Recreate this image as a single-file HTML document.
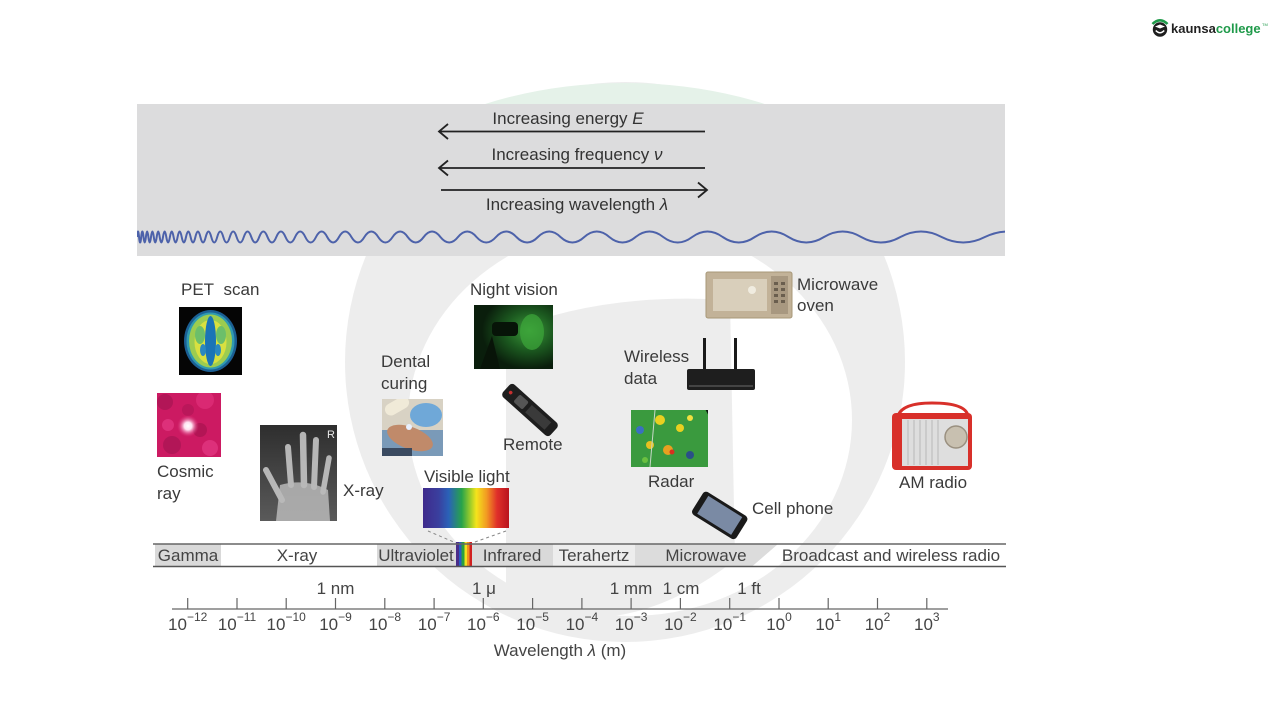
<!DOCTYPE html>
<html>
<head>
<meta charset="utf-8">
<style>
html,body{margin:0;padding:0;background:#fff;}
svg{display:block;}
text{font-family:"Liberation Sans",Arial,sans-serif;}
</style>
</head>
<body>
<svg width="1280" height="720" viewBox="0 0 1280 720" xmlns="http://www.w3.org/2000/svg">
<defs>
  <clipPath id="capclip"><rect x="0" y="0" width="1280" height="256"/></clipPath>
  <clipPath id="waveclip"><rect x="137" y="220" width="868" height="30"/></clipPath>
  <clipPath id="radarclip"><rect x="631" y="410" width="77" height="57"/></clipPath>
  <clipPath id="nvclip"><rect x="474" y="305" width="79" height="64"/></clipPath>
  <clipPath id="dentclip"><rect x="382" y="399" width="61" height="57"/></clipPath>
  <clipPath id="cosclip"><rect x="157" y="393" width="64" height="64"/></clipPath>
  <clipPath id="xrclip"><rect x="260" y="425" width="77" height="96"/></clipPath>
  <linearGradient id="spec" x1="0" y1="0" x2="1" y2="0">
    <stop offset="0" stop-color="#3f2a8c"/>
    <stop offset="0.18" stop-color="#3a3f9e"/>
    <stop offset="0.3" stop-color="#2a62b8"/>
    <stop offset="0.45" stop-color="#27a34a"/>
    <stop offset="0.55" stop-color="#9ccc2a"/>
    <stop offset="0.62" stop-color="#f4e41c"/>
    <stop offset="0.74" stop-color="#f29a22"/>
    <stop offset="0.86" stop-color="#e0302a"/>
    <stop offset="1" stop-color="#b8141e"/>
  </linearGradient>
  <linearGradient id="xg" x1="0" y1="0" x2="0" y2="1">
    <stop offset="0" stop-color="#2e2e2e"/>
    <stop offset="1" stop-color="#5a5a5a"/>
  </linearGradient>
  <radialGradient id="glow">
    <stop offset="0" stop-color="#ffffff"/>
    <stop offset="0.35" stop-color="#ffe0f0"/>
    <stop offset="1" stop-color="#e0307a" stop-opacity="0"/>
  </radialGradient>
  <radialGradient id="nvg" cx="0.7" cy="0.4" r="0.6">
    <stop offset="0" stop-color="#3c9a3a"/>
    <stop offset="0.5" stop-color="#1c5a20"/>
    <stop offset="1" stop-color="#0a1e0c"/>
  </radialGradient>
</defs>

<!-- watermark -->
<circle cx="625" cy="362" r="280" fill="#ededed"/>
<g clip-path="url(#capclip)">
  <ellipse cx="625" cy="265" rx="300" ry="182" fill="#e5f2e9"/>
</g>
<ellipse cx="630" cy="420" rx="222" ry="196" fill="#ffffff"/>
<path d="M506 332 Q600 292 730 300 L735 560 Q620 650 506 600 Z" fill="#ededed"/>

<!-- banner -->
<rect x="137" y="104" width="868" height="152" fill="#dcdcdd"/>
<text x="568" y="124" font-size="17" fill="#333" text-anchor="middle">Increasing energy <tspan font-style="italic">E</tspan></text>
<line x1="439" y1="131.5" x2="705" y2="131.5" stroke="#222" stroke-width="1.8"/>
<path d="M448 124 L439 131.5 L448 139" fill="none" stroke="#222" stroke-width="1.8"/>
<text x="577" y="160" font-size="17" fill="#333" text-anchor="middle">Increasing frequency <tspan font-style="italic">ν</tspan></text>
<line x1="439" y1="168" x2="705" y2="168" stroke="#222" stroke-width="1.8"/>
<path d="M448 160.5 L439 168 L448 175.5" fill="none" stroke="#222" stroke-width="1.8"/>
<line x1="441" y1="190" x2="707" y2="190" stroke="#222" stroke-width="1.8"/>
<path d="M698 182.5 L707 190 L698 197.5" fill="none" stroke="#222" stroke-width="1.8"/>
<text x="577" y="210" font-size="17" fill="#333" text-anchor="middle">Increasing wavelength <tspan font-style="italic">λ</tspan></text>

<!-- wave -->
<g clip-path="url(#waveclip)">
<path fill="none" stroke="#4d62aa" stroke-width="2" d="M137 237
Q138.03 226 139.05 237 Q140.1 248 141.2 237 Q142.35 226 143.5 237 Q144.7 248 145.9 237
Q147.15 226 148.4 237 Q149.7 248 151 237 Q152.4 226 153.8 237 Q155.25 248 156.7 237
Q158.2 226 159.7 237 Q161.35 248 163 237 Q164.65 226 166.3 237 Q168.1 248 169.9 237
Q171.75 226 173.6 237 Q175.6 248 177.6 237 Q179.65 226 181.7 237 Q183.85 248 186 237
Q188.3 226 190.6 237 Q193 248 195.4 237 Q197.9 226 200.4 237 Q203.05 248 205.7 237
Q208.5 226 211.3 237 Q214.25 248 217.2 237 Q220.25 226 223.3 237 Q226.55 248 229.8 237
Q233.2 226 236.6 237 Q240.2 248 243.8 237 Q247.55 226 251.3 237 Q255.25 248 259.2 237
Q263.35 226 267.5 237 Q271.9 248 276.3 237 Q280.9 226 285.5 237 Q290.3 248 295.1 237
Q300.2 226 305.3 237 Q310.65 248 316 237 Q321.6 226 327.2 237 Q333.1 248 339 237
Q345.2 226 351.4 237 Q357.9 248 364.4 237 Q371.3 226 378.2 237 Q385.4 248 392.6 237
Q400.15 226 407.7 237 Q415.7 248 423.7 237 Q432.05 226 440.4 237 Q449.2 248 458 237
Q467.25 226 476.5 237 Q486.25 248 496 237 Q506.2 226 516.4 237 Q527.15 248 537.9 237
Q549.2 226 560.5 237 Q572.4 248 584.3 237 Q596.8 226 609.3 237 Q622.45 248 635.6 237
Q649.4 226 663.2 237 Q677.7 248 692.2 237 Q707.45 226 722.7 237 Q738.75 248 754.8 237
Q771.65 226 788.5 237 Q806.25 248 824 237 Q842.6 226 861.2 237 Q880.8 248 900.4 237
Q921 226 941.6 237 Q963.25 248 984.9 237 Q1007.6 226 1030.4 237"/>
</g>

<!-- PET scan -->
<text x="181" y="295" font-size="17" fill="#3a3a3a">PET&#160; scan</text>
<rect x="179" y="307" width="63" height="68" fill="#050505"/>
<ellipse cx="210.5" cy="341" rx="26.5" ry="31" fill="#1b5f94"/>
<ellipse cx="210.5" cy="341" rx="24" ry="28.5" fill="#2f9ab0"/>
<ellipse cx="210.5" cy="341" rx="21.5" ry="26.5" fill="#9ccc50"/>
<ellipse cx="210.5" cy="342" rx="16" ry="22" fill="#d8e040"/>
<ellipse cx="200" cy="335" rx="5" ry="9" fill="#6cbf6a"/>
<ellipse cx="221" cy="335" rx="5" ry="9" fill="#6cbf6a"/>
<ellipse cx="210.5" cy="341" rx="5.5" ry="25" fill="#1a74b6"/>
<ellipse cx="203" cy="350" rx="3" ry="6" fill="#2a88c0"/>
<ellipse cx="218" cy="350" rx="3" ry="6" fill="#2a88c0"/>

<!-- Cosmic ray -->
<g clip-path="url(#cosclip)">
<rect x="157" y="393" width="64" height="64" fill="#cc1a62"/>
<circle cx="165" cy="402" r="8" fill="#a01450" opacity="0.6"/>
<circle cx="205" cy="400" r="9" fill="#e0307a" opacity="0.7"/>
<circle cx="172" cy="445" r="9" fill="#a01450" opacity="0.6"/>
<circle cx="210" cy="448" r="8" fill="#e8408a" opacity="0.6"/>
<circle cx="200" cy="430" r="7" fill="#9a1048" opacity="0.5"/>
<circle cx="168" cy="425" r="6" fill="#e8408a" opacity="0.6"/>
<circle cx="188" cy="410" r="6" fill="#a81452" opacity="0.5"/>
<circle cx="188" cy="426" r="11" fill="url(#glow)"/>
</g>

<!-- X-ray -->
<g clip-path="url(#xrclip)">
<rect x="260" y="425" width="77" height="96" fill="url(#xg)"/>
<g stroke="#c4c4c4" stroke-linecap="round" fill="none" opacity="0.9">
<line x1="288" y1="447" x2="291" y2="485" stroke-width="6"/>
<line x1="303" y1="435" x2="304" y2="485" stroke-width="6.5"/>
<line x1="316" y1="440" x2="314" y2="487" stroke-width="6"/>
<line x1="329" y1="458" x2="323" y2="492" stroke-width="5.5"/>
<line x1="266" y1="470" x2="282" y2="500" stroke-width="6"/>
</g>
<path d="M280 485 Q305 478 328 490 L330 521 L276 521 Z" fill="#b8b8b8" opacity="0.85"/>
<text x="327" y="438" font-size="11" fill="#e8e8e8">R</text>
</g>
<text x="343" y="496" font-size="17" fill="#3a3a3a">X-ray</text>

<!-- Cosmic label -->
<text x="157" y="477" font-size="17" fill="#3a3a3a">Cosmic</text>
<text x="157" y="499" font-size="17" fill="#3a3a3a">ray</text>

<!-- Dental curing -->
<text x="381" y="367" font-size="17" fill="#3a3a3a">Dental</text>
<text x="381" y="389" font-size="17" fill="#3a3a3a">curing</text>
<g clip-path="url(#dentclip)">
<rect x="382" y="399" width="61" height="57" fill="#d8d2c4"/>
<rect x="382" y="430" width="61" height="26" fill="#7a9ab8"/>
<ellipse cx="426" cy="415" rx="16" ry="12" fill="#6fa8d8"/>
<ellipse cx="410" cy="438" rx="24" ry="11" fill="#c08a6a" transform="rotate(20 410 438)"/>
<rect x="384" y="400" width="26" height="12" rx="6" fill="#f0ead8" transform="rotate(-30 397 406)"/>
<circle cx="409" cy="427" r="3" fill="#e8f0ff"/>
<rect x="382" y="448" width="30" height="8" fill="#3a4a60"/>
</g>

<!-- Night vision -->
<text x="470" y="295" font-size="17" fill="#3a3a3a">Night vision</text>
<g clip-path="url(#nvclip)">
<rect x="474" y="305" width="79" height="64" fill="url(#nvg)"/>
<rect x="492" y="322" width="26" height="14" rx="4" fill="#071408"/>
<ellipse cx="532" cy="332" rx="12" ry="18" fill="#3da83a" opacity="0.7"/>
<path d="M480 369 L492 336 L500 369 Z" fill="#081408"/>
</g>

<!-- Remote -->
<g transform="rotate(42 530 410)">
<rect x="498" y="401.5" width="64" height="17" rx="4" fill="#1e1e1e"/>
<circle cx="504" cy="410" r="1.8" fill="#c83030"/>
<rect x="512" y="405" width="12" height="10" rx="2" fill="#555"/>
<rect x="528" y="405" width="26" height="10" fill="#3a3a3a"/>
</g>
<text x="503" y="450" font-size="17" fill="#3a3a3a">Remote</text>

<!-- Visible light -->
<text x="424" y="482" font-size="17" fill="#3a3a3a">Visible light</text>
<rect x="423" y="488" width="86" height="40" fill="url(#spec)"/>
<line x1="428" y1="531" x2="456" y2="543" stroke="#888" stroke-width="1" stroke-dasharray="3 3"/>
<line x1="506" y1="531" x2="472" y2="543" stroke="#888" stroke-width="1" stroke-dasharray="3 3"/>

<!-- Microwave oven -->
<rect x="706" y="272" width="86" height="46" rx="2" fill="#c2b298" stroke="#a89878" stroke-width="1"/>
<rect x="713" y="279" width="54" height="32" fill="#d9cfbb"/>
<circle cx="752" cy="290" r="4" fill="#f0ece0"/>
<rect x="771" y="276" width="17" height="38" fill="#a89880"/>
<g fill="#6a5e4e">
<rect x="774" y="282" width="4" height="3"/><rect x="781" y="282" width="4" height="3"/>
<rect x="774" y="288" width="4" height="3"/><rect x="781" y="288" width="4" height="3"/>
<rect x="774" y="294" width="4" height="3"/><rect x="781" y="294" width="4" height="3"/>
<rect x="774" y="300" width="4" height="3"/><rect x="781" y="300" width="4" height="3"/>
</g>
<text x="797" y="290" font-size="17" fill="#3a3a3a">Microwave</text>
<text x="797" y="311" font-size="17" fill="#3a3a3a">oven</text>

<!-- Wireless data -->
<text x="624" y="362" font-size="17" fill="#3a3a3a">Wireless</text>
<text x="624" y="384" font-size="17" fill="#3a3a3a">data</text>
<rect x="703" y="338" width="3" height="34" fill="#1a1a1a"/>
<rect x="734" y="338" width="3" height="34" fill="#1a1a1a"/>
<rect x="687" y="369" width="68" height="21" rx="2" fill="#1e1e1e"/>
<rect x="689" y="385" width="64" height="2" fill="#444"/>

<!-- Radar -->
<rect x="631" y="410" width="77" height="57" fill="#0a1a0e"/>
<g clip-path="url(#radarclip)">
<circle cx="645" cy="445" r="70" fill="#3a9a3e"/>
<circle cx="660" cy="420" r="5" fill="#e8d020"/>
<circle cx="680" cy="428" r="4" fill="#e8d020"/>
<circle cx="690" cy="418" r="3" fill="#f0e040"/>
<circle cx="668" cy="450" r="5" fill="#e8a020"/>
<circle cx="672" cy="452" r="2.5" fill="#d83020"/>
<circle cx="650" cy="445" r="4" fill="#e8c020"/>
<circle cx="640" cy="430" r="4" fill="#3a70c0"/>
<circle cx="690" cy="455" r="4" fill="#2a5088"/>
<circle cx="645" cy="460" r="3" fill="#6ac040"/>
<line x1="655" y1="410" x2="650" y2="467" stroke="#c8d8c8" stroke-width="1"/>
</g>
<text x="648" y="487" font-size="17" fill="#3a3a3a">Radar</text>

<!-- Cell phone -->
<g transform="rotate(32 720 515)">
<rect x="694" y="502" width="52" height="27" rx="4" fill="#1a1a1a"/>
<rect x="700" y="505" width="40" height="21" fill="#7a8aa4"/>
</g>
<text x="752" y="514" font-size="17" fill="#3a3a3a">Cell phone</text>

<!-- AM radio -->
<path d="M898 416 Q902 403 932 403 Q966 403 968 416" fill="none" stroke="#d8302a" stroke-width="3"/>
<rect x="892" y="413" width="80" height="57" rx="4" fill="#d8302a"/>
<rect x="902" y="419" width="66" height="47" fill="#dedede"/>
<g stroke="#b8b8b8" stroke-width="1">
<line x1="908" y1="420" x2="908" y2="465"/><line x1="914" y1="420" x2="914" y2="465"/>
<line x1="920" y1="420" x2="920" y2="465"/><line x1="926" y1="420" x2="926" y2="465"/>
<line x1="932" y1="420" x2="932" y2="465"/><line x1="938" y1="420" x2="938" y2="465"/>
</g>
<circle cx="956" cy="437" r="11" fill="#c8c0b0" stroke="#9a9080" stroke-width="1.5"/>
<text x="899" y="488" font-size="17" fill="#3a3a3a">AM radio</text>

<!-- band bar -->
<rect x="155" y="544" width="66" height="22.5" fill="#d9d9d9"/>
<rect x="377" y="544" width="79" height="22.5" fill="#d9d9d9"/>
<rect x="472" y="544" width="81" height="22.5" fill="#d9d9d9"/>
<polygon points="635,544 778,544 752,566.5 635,566.5" fill="#dcdcdc"/>
<rect x="456" y="542" width="3" height="25" fill="#4a2d8a"/>
<rect x="459" y="542" width="2.5" height="25" fill="#2a5cc0"/>
<rect x="461.5" y="542" width="3" height="25" fill="#2aa040"/>
<rect x="464.5" y="542" width="2.5" height="25" fill="#f0e020"/>
<rect x="467" y="542" width="2.5" height="25" fill="#f09020"/>
<rect x="469.5" y="542" width="2.5" height="25" fill="#d02020"/>
<line x1="153" y1="544" x2="1006" y2="544" stroke="#666" stroke-width="1.5"/>
<line x1="153" y1="566.5" x2="1006" y2="566.5" stroke="#555" stroke-width="1.5"/>
<g font-size="17" fill="#444" text-anchor="middle">
<text x="188" y="561">Gamma</text>
<text x="297" y="561">X-ray</text>
<text x="416" y="561">Ultraviolet</text>
<text x="512" y="561">Infrared</text>
<text x="594" y="561">Terahertz</text>
<text x="706" y="561">Microwave</text>
<text x="891" y="561">Broadcast and wireless radio</text>
</g>

<!-- axis -->
<g font-size="17" fill="#444" text-anchor="middle">
<text x="335.5" y="594">1 nm</text>
<text x="484" y="594">1 μ</text>
<text x="631" y="594">1 mm</text>
<text x="681" y="594">1 cm</text>
<text x="749" y="594">1 ft</text>
</g>
<line x1="172" y1="609" x2="948" y2="609" stroke="#666" stroke-width="1.3"/>
<g stroke="#666" stroke-width="1.2">
<line x1="187.7" y1="598" x2="187.7" y2="609"/>
<line x1="237" y1="598" x2="237" y2="609"/>
<line x1="286.2" y1="598" x2="286.2" y2="609"/>
<line x1="335.5" y1="598" x2="335.5" y2="609"/>
<line x1="384.8" y1="598" x2="384.8" y2="609"/>
<line x1="434.1" y1="598" x2="434.1" y2="609"/>
<line x1="483.3" y1="598" x2="483.3" y2="609"/>
<line x1="532.6" y1="598" x2="532.6" y2="609"/>
<line x1="581.9" y1="598" x2="581.9" y2="609"/>
<line x1="631.1" y1="598" x2="631.1" y2="609"/>
<line x1="680.4" y1="598" x2="680.4" y2="609"/>
<line x1="729.7" y1="598" x2="729.7" y2="609"/>
<line x1="779" y1="598" x2="779" y2="609"/>
<line x1="828.2" y1="598" x2="828.2" y2="609"/>
<line x1="877.5" y1="598" x2="877.5" y2="609"/>
<line x1="926.8" y1="598" x2="926.8" y2="609"/>
</g>
<g font-size="17" fill="#444" text-anchor="middle">
<text x="187.7" y="630">10<tspan font-size="12" dy="-9">−12</tspan></text>
<text x="237" y="630">10<tspan font-size="12" dy="-9">−11</tspan></text>
<text x="286.2" y="630">10<tspan font-size="12" dy="-9">−10</tspan></text>
<text x="335.5" y="630">10<tspan font-size="12" dy="-9">−9</tspan></text>
<text x="384.8" y="630">10<tspan font-size="12" dy="-9">−8</tspan></text>
<text x="434.1" y="630">10<tspan font-size="12" dy="-9">−7</tspan></text>
<text x="483.3" y="630">10<tspan font-size="12" dy="-9">−6</tspan></text>
<text x="532.6" y="630">10<tspan font-size="12" dy="-9">−5</tspan></text>
<text x="581.9" y="630">10<tspan font-size="12" dy="-9">−4</tspan></text>
<text x="631.1" y="630">10<tspan font-size="12" dy="-9">−3</tspan></text>
<text x="680.4" y="630">10<tspan font-size="12" dy="-9">−2</tspan></text>
<text x="729.7" y="630">10<tspan font-size="12" dy="-9">−1</tspan></text>
<text x="779" y="630">10<tspan font-size="12" dy="-9">0</tspan></text>
<text x="828.2" y="630">10<tspan font-size="12" dy="-9">1</tspan></text>
<text x="877.5" y="630">10<tspan font-size="12" dy="-9">2</tspan></text>
<text x="926.8" y="630">10<tspan font-size="12" dy="-9">3</tspan></text>
</g>
<text x="560" y="656" font-size="17" fill="#444" text-anchor="middle">Wavelength <tspan font-style="italic">λ</tspan> (m)</text>

<!-- logo -->
<path d="M1152.5 24 Q1160 16.5 1167.5 24" fill="none" stroke="#1f9a4a" stroke-width="2.6"/>
<circle cx="1160" cy="29.5" r="7.2" fill="#1e1e1e"/>
<path d="M1155 26.5 L1160 24.5 L1165 26.5 L1160 28.5 Z" fill="#fff"/>
<path d="M1155.8 30.5 Q1160 35 1164.2 30.5" fill="none" stroke="#fff" stroke-width="1.6"/>
<text x="1171" y="33" font-size="13" font-weight="bold"><tspan fill="#222">kaunsa</tspan><tspan fill="#1f9a4a">college</tspan></text>
<text x="1262" y="26" font-size="4" fill="#1f9a4a">TM</text>
</svg>
</body>
</html>
